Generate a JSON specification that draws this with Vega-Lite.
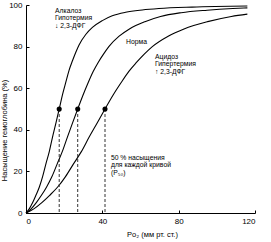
{
  "$schema": "https://vega.github.io/schema/vega-lite/v6.json",
  "width": 229,
  "height": 208,
  "autosize": {"type": "none"},
  "padding": {"left": 26, "top": 5, "right": 16, "bottom": 29},
  "background": "white",
  "config": {
    "view": {"stroke": null},
    "font": "Liberation Sans",
    "axis": {
      "grid": false,
      "domainColor": "#000",
      "domainWidth": 1,
      "tickColor": "#000",
      "tickSize": -3,
      "labelPadding": 7,
      "labelFont": "Liberation Sans",
      "labelFontSize": 8,
      "labelColor": "#000",
      "titleFont": "Liberation Sans",
      "titleFontSize": 7.5,
      "titleFontWeight": "normal",
      "titleColor": "#000"
    }
  },
  "datasets": {
    "curves": [
      {"curve": "left", "p": 0, "s": 0},
      {"curve": "left", "p": 1.7, "s": 2},
      {"curve": "left", "p": 3.5, "s": 5},
      {"curve": "left", "p": 5.2, "s": 8.5},
      {"curve": "left", "p": 7.0, "s": 12.5},
      {"curve": "left", "p": 8.7, "s": 17.5},
      {"curve": "left", "p": 10.4, "s": 23.5},
      {"curve": "left", "p": 12.2, "s": 29.5},
      {"curve": "left", "p": 13.9, "s": 36.5},
      {"curve": "left", "p": 15.7, "s": 43.3},
      {"curve": "left", "p": 17.4, "s": 50},
      {"curve": "left", "p": 19.1, "s": 56.8},
      {"curve": "left", "p": 20.9, "s": 63},
      {"curve": "left", "p": 22.6, "s": 68.7},
      {"curve": "left", "p": 24.4, "s": 73.3},
      {"curve": "left", "p": 26.1, "s": 77.3},
      {"curve": "left", "p": 27.8, "s": 80.8},
      {"curve": "left", "p": 31.3, "s": 85.8},
      {"curve": "left", "p": 34.8, "s": 89.2},
      {"curve": "left", "p": 40.0, "s": 92.5},
      {"curve": "left", "p": 45.2, "s": 94.8},
      {"curve": "left", "p": 52.2, "s": 96.5},
      {"curve": "left", "p": 60.9, "s": 97.6},
      {"curve": "left", "p": 69.6, "s": 98.3},
      {"curve": "left", "p": 87.0, "s": 99},
      {"curve": "left", "p": 116, "s": 99.5},
      {"curve": "norm", "p": 0, "s": 0},
      {"curve": "norm", "p": 2.7, "s": 2},
      {"curve": "norm", "p": 5.4, "s": 5},
      {"curve": "norm", "p": 8.1, "s": 8.5},
      {"curve": "norm", "p": 10.8, "s": 12.5},
      {"curve": "norm", "p": 13.6, "s": 17.5},
      {"curve": "norm", "p": 16.3, "s": 23.5},
      {"curve": "norm", "p": 19.0, "s": 29.5},
      {"curve": "norm", "p": 21.7, "s": 36.5},
      {"curve": "norm", "p": 24.4, "s": 43.3},
      {"curve": "norm", "p": 27.1, "s": 50},
      {"curve": "norm", "p": 29.8, "s": 56.5},
      {"curve": "norm", "p": 32.5, "s": 62.5},
      {"curve": "norm", "p": 35.2, "s": 68},
      {"curve": "norm", "p": 37.9, "s": 72.5},
      {"curve": "norm", "p": 40.7, "s": 76.5},
      {"curve": "norm", "p": 43.4, "s": 80},
      {"curve": "norm", "p": 48.8, "s": 85},
      {"curve": "norm", "p": 54.2, "s": 88.5},
      {"curve": "norm", "p": 62.3, "s": 92},
      {"curve": "norm", "p": 70.5, "s": 94.5},
      {"curve": "norm", "p": 81.3, "s": 96.3},
      {"curve": "norm", "p": 94.9, "s": 97.5},
      {"curve": "norm", "p": 108.4, "s": 98.3},
      {"curve": "norm", "p": 116, "s": 98.6},
      {"curve": "right", "p": 0, "s": 0},
      {"curve": "right", "p": 4.1, "s": 2},
      {"curve": "right", "p": 8.3, "s": 5},
      {"curve": "right", "p": 12.4, "s": 8.5},
      {"curve": "right", "p": 16.6, "s": 12.5},
      {"curve": "right", "p": 20.7, "s": 17.5},
      {"curve": "right", "p": 24.8, "s": 23.5},
      {"curve": "right", "p": 29.0, "s": 29.5},
      {"curve": "right", "p": 33.1, "s": 36.5},
      {"curve": "right", "p": 37.3, "s": 43.3},
      {"curve": "right", "p": 41.4, "s": 50},
      {"curve": "right", "p": 45.5, "s": 56.5},
      {"curve": "right", "p": 49.7, "s": 62.5},
      {"curve": "right", "p": 53.8, "s": 68},
      {"curve": "right", "p": 58.0, "s": 72.5},
      {"curve": "right", "p": 62.1, "s": 76.5},
      {"curve": "right", "p": 66.2, "s": 80},
      {"curve": "right", "p": 74.5, "s": 85},
      {"curve": "right", "p": 82.8, "s": 88.5},
      {"curve": "right", "p": 95.2, "s": 92},
      {"curve": "right", "p": 107.6, "s": 94.5},
      {"curve": "right", "p": 116, "s": 95.6}
    ],
    "p50": [
      {"curve": "left", "p": 17.4, "s": 50},
      {"curve": "norm", "p": 27.1, "s": 50},
      {"curve": "right", "p": 41.4, "s": 50}
    ],
    "notes": [
      {"p": 15.2, "s": 97.3, "t": "Алкалоз"},
      {"p": 15.2, "s": 93.7, "t": "Гипотермия"},
      {"p": 15.2, "s": 90.1, "t": "↓ 2,3-ДФГ"},
      {"p": 52.4, "s": 82.1, "t": "Норма"},
      {"p": 67.6, "s": 75.2, "t": "Ацидоз"},
      {"p": 67.6, "s": 71.6, "t": "Гипертермия"},
      {"p": 67.6, "s": 68.0, "t": "↑ 2,3-ДФГ"},
      {"p": 44.5, "s": 26.6, "t": "50 % насыщения"},
      {"p": 44.5, "s": 23.0, "t": "для каждой кривой"},
      {"p": 44.5, "s": 19.4, "t": "(P₅₀)"}
    ]
  },
  "layer": [
    {
      "data": {"name": "curves"},
      "mark": {"type": "line", "color": "#000", "strokeWidth": 1.1, "interpolate": "monotone"},
      "encoding": {
        "x": {
          "field": "p", "type": "quantitative",
          "scale": {"domain": [0, 120], "nice": false},
          "axis": {
            "values": [0, 20, 40, 60, 80, 100, 120],
            "title": "Po₂ (мм рт. ст.)",
            "titleX": 126, "titleY": 21,
            "titleBaseline": "middle", "titleAlign": "center"
          }
        },
        "y": {
          "field": "s", "type": "quantitative",
          "scale": {"domain": [0, 100], "nice": false},
          "axis": {
            "values": [0, 20, 40, 60, 80, 100],
            "title": "Насыщение гемоглобина (%)",
            "titleX": -21.5, "titleY": 125,
            "titleBaseline": "middle", "titleAlign": "center", "titleAngle": -90
          }
        },
        "detail": {"field": "curve"}
      }
    },
    {
      "data": {"name": "p50"},
      "mark": {"type": "rule", "color": "#333", "strokeWidth": 1, "strokeDash": [3, 2]},
      "encoding": {
        "x": {"field": "p", "type": "quantitative"},
        "y": {"field": "s", "type": "quantitative"},
        "y2": {"datum": 0}
      }
    },
    {
      "data": {"name": "p50"},
      "mark": {"type": "point", "filled": true, "color": "#000", "opacity": 1, "size": 26},
      "encoding": {
        "x": {"field": "p", "type": "quantitative"},
        "y": {"field": "s", "type": "quantitative"}
      }
    },
    {
      "data": {"name": "notes"},
      "mark": {"type": "text", "align": "left", "baseline": "middle", "fontSize": 6.8, "font": "Liberation Sans", "color": "#000"},
      "encoding": {
        "x": {"field": "p", "type": "quantitative"},
        "y": {"field": "s", "type": "quantitative"},
        "text": {"field": "t"}
      }
    }
  ]
}
